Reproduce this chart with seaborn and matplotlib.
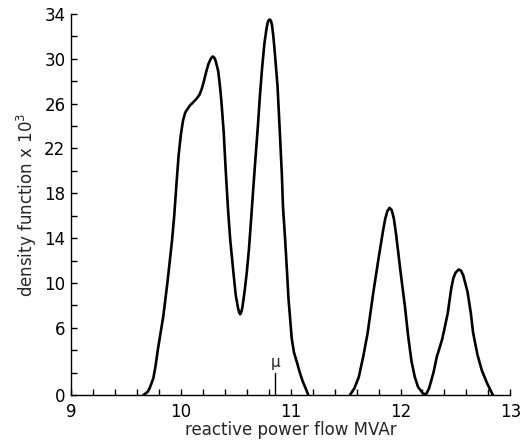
import numpy as np
import pandas as pd
import matplotlib
matplotlib.use("Agg")
import matplotlib.pyplot as plt
import seaborn as sns

# Density curve (x in MVAr, y = density x 10^3)
# first group: two overlapping peaks left of 11.2
x_left = [9.66, 9.70, 9.72, 9.75, 9.77, 9.79, 9.82, 9.84, 9.86, 9.88, 9.90, 9.92,
          9.94, 9.96, 9.98, 10.00, 10.02, 10.04, 10.06, 10.08, 10.11, 10.14, 10.17,
          10.19, 10.21, 10.23, 10.25, 10.27, 10.28, 10.29, 10.30, 10.31, 10.32,
          10.34, 10.35, 10.36, 10.37, 10.39, 10.41, 10.43, 10.45, 10.48, 10.50,
          10.52, 10.53, 10.54, 10.55, 10.56, 10.58, 10.60, 10.62, 10.64, 10.66,
          10.68, 10.70, 10.72, 10.74, 10.76, 10.78, 10.79, 10.80, 10.81, 10.82,
          10.83, 10.84, 10.85, 10.86, 10.88, 10.90, 10.92, 10.93, 10.95, 10.97,
          10.98, 11.00, 11.01, 11.03, 11.06, 11.08, 11.11, 11.14, 11.16]
y_left = [0.0, 0.3, 0.7, 1.5, 2.6, 4.0, 5.8, 7.0, 8.6, 10.2, 12.0, 13.8,
          16.0, 18.8, 21.4, 23.2, 24.5, 25.2, 25.5, 25.8, 26.1, 26.4, 26.8,
          27.3, 28.0, 28.8, 29.5, 29.95, 30.1, 30.2, 30.15, 30.0, 29.7,
          28.9, 28.1, 27.2, 26.1, 23.5, 19.8, 16.5, 13.8, 10.8, 8.9,
          7.8, 7.4, 7.2, 7.4, 7.8, 9.2, 10.9, 13.0, 15.7, 18.5,
          21.2, 23.8, 26.7, 29.2, 31.3, 32.7, 33.2, 33.45, 33.5, 33.4,
          33.0, 32.2, 31.2, 30.0, 27.6, 23.7, 19.6, 16.8, 13.8, 10.4,
          8.6, 6.2, 5.0, 3.8, 2.8, 2.1, 1.2, 0.5, 0.0]

# second group: two peaks right of 11.5
x_right = [11.54, 11.58, 11.62, 11.66, 11.70, 11.75, 11.80, 11.84, 11.86, 11.88,
           11.90, 11.92, 11.94, 11.96, 12.00, 12.04, 12.07, 12.10, 12.13, 12.16,
           12.20, 12.23, 12.26, 12.30, 12.33, 12.38, 12.43, 12.46, 12.48, 12.50,
           12.53, 12.55, 12.57, 12.61, 12.64, 12.66, 12.70, 12.74, 12.79, 12.84]
y_right = [0.0, 0.6, 1.6, 3.4, 5.5, 9.0, 12.2, 14.6, 15.7, 16.4,
           16.7, 16.5, 15.7, 14.3, 11.0, 7.9, 5.2, 3.0, 1.6, 0.7,
           0.2, 0.0, 0.6, 2.0, 3.4, 5.0, 7.3, 9.4, 10.4, 10.9,
           11.2, 11.1, 10.7, 9.2, 7.3, 5.6, 3.6, 2.2, 1.0, 0.0]

mu = 10.86
mu_height = 2.0

x_ticks = np.arange(9, 13.01, 0.2)
x_labels = ['9', '10', '11', '12', '13']
y_ticks = np.arange(0, 35, 2)
y_labels = ['0', '6', '10', '14', '18', '22', '26', '30', '34']

sns.set_style("ticks")
plt.rcParams['font.family'] = ['DejaVu Sans']

fig = plt.figure(figsize=(5.2, 4.4), dpi=100)
ax = fig.add_axes([0.1365, 0.1023, 0.845, 0.866])

sns.lineplot(x=x_left, y=y_left, color='black', lw=1.9, ax=ax, sort=False)
sns.lineplot(x=x_right, y=y_right, color='black', lw=1.9, ax=ax, sort=False)

# mean marker
ax.plot([mu, mu], [0, mu_height], color='black', lw=1.0)
ax.text(mu, mu_height + 0.2, 'μ', ha='center', va='bottom', fontsize=11)

ax.set_xlim(9, 13)
ax.set_ylim(0, 34)

ax.set_xticks(x_ticks)
ax.set_xticklabels([str(int(round(t))) if str(int(round(t))) in x_labels
                    and abs(t - round(t)) < 1e-6 else '' for t in x_ticks])
ax.set_yticks(y_ticks)
ax.set_yticklabels([str(t) if str(t) in y_labels else '' for t in y_ticks])

ax.tick_params(direction='in', length=4, width=1, labelsize=12, colors='black')
ax.tick_params(axis='x', pad=6)
ax.tick_params(axis='y', pad=4)

ax.set_xlabel('reactive power flow MVAr', fontsize=12, labelpad=0)
ax.set_ylabel(r'density function x 10$^{3}$', fontsize=12, labelpad=4)

sns.despine(ax=ax)
for s in ['left', 'bottom']:
    ax.spines[s].set_linewidth(1.0)
    ax.spines[s].set_color('black')

fig.savefig('out.png', dpi=100)
